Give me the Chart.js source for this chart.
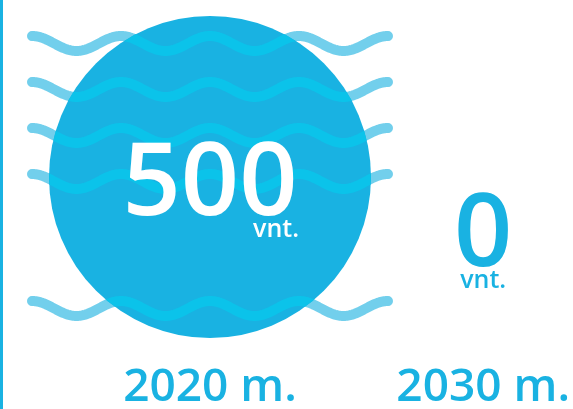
<!DOCTYPE html>
<html>
<head>
<meta charset="utf-8">
<script src="https://cdn.jsdelivr.net/npm/chart.js@4/dist/chart.umd.min.js"></script>
<style>
  html, body { margin: 0; padding: 0; background: #fff; }
  #wrap { width: 573px; height: 409px; }
</style>
</head>
<body>
<div id="wrap"><canvas id="chart"></canvas></div>
<script>
const categories = ["2020 m.", "2030 m."];
const values     = [500, 0];
const unitLabel  = "vnt.";

const BLUE       = "#19b2e2";
const WAVE_LIGHT = "#72cfec";
const WAVE_IN    = "#0bc3ea";
const FONT       = "'Open Sans', sans-serif";
const MAX_R      = 161;

const maxValue = Math.max(...values);

// wave rows, offsets from bubble centre
const waveRows = [-133.5, -87.5, -41.5, 4.5, 131.5];

function drawWaves(ctx, cx, cy, r, color) {
  const half = r + 17;
  const period = (half * 2) / 4;
  const amp = 7.5;
  ctx.save();
  ctx.strokeStyle = color;
  ctx.lineWidth = 10;
  ctx.lineCap = "round";
  ctx.lineJoin = "round";
  waveRows.forEach(off => {
    const mid = cy + off;
    ctx.beginPath();
    for (let x = cx - half; x <= cx + half + 0.1; x += 1) {
      const y = mid - amp * Math.cos(2 * Math.PI * (x - (cx - half)) / period);
      if (x === cx - half) ctx.moveTo(x, y); else ctx.lineTo(x, y);
    }
    ctx.stroke();
  });
  ctx.restore();
}

const decorPlugin = {
  id: "decor",
  beforeDraw(chart) {
    const ctx = chart.ctx;
    ctx.save();
    ctx.fillStyle = "#fff";
    ctx.fillRect(0, 0, chart.width, chart.height);
    ctx.fillStyle = BLUE;
    ctx.fillRect(0, 0, 3, chart.height);
    ctx.restore();
  },
  beforeDatasetsDraw(chart) {
    const meta = chart.getDatasetMeta(0);
    meta.data.forEach((pt, i) => {
      if (values[i] > 0) drawWaves(chart.ctx, pt.x, pt.y, pt.options.radius, WAVE_LIGHT);
    });
  },
  afterDatasetsDraw(chart) {
    const ctx = chart.ctx;
    const meta = chart.getDatasetMeta(0);
    meta.data.forEach((pt, i) => {
      const r = pt.options.radius;
      if (values[i] > 0) {
        ctx.save();
        ctx.beginPath();
        ctx.arc(pt.x, pt.y, r, 0, Math.PI * 2);
        ctx.clip();
        drawWaves(ctx, pt.x, pt.y, r, WAVE_IN);
        ctx.restore();
      }

      ctx.save();
      ctx.textBaseline = "alphabetic";
      if (r > 60) {
        ctx.fillStyle = "#fff";
        ctx.font = "600 102px " + FONT;
        ctx.textAlign = "center";
        ctx.fillText(String(values[i]), pt.x, pt.y + 38);
        ctx.font = "600 25px " + FONT;
        ctx.textAlign = "right";
        ctx.fillText(unitLabel, pt.x + 89, pt.y + 60);
      } else {
        ctx.fillStyle = BLUE;
        ctx.font = "600 102px " + FONT;
        ctx.textAlign = "center";
        ctx.fillText(String(values[i]), pt.x, pt.y + 89);
        ctx.font = "600 25px " + FONT;
        ctx.fillText(unitLabel, pt.x, pt.y + 111);
      }
      ctx.restore();
    });
  }
};

new Chart(document.getElementById("chart"), {
  type: "bubble",
  data: {
    labels: categories,
    datasets: [{
      data: categories.map((c, i) => ({
        x: c,
        y: 1,
        r: Math.sqrt(values[i] / maxValue) * MAX_R
      })),
      backgroundColor: BLUE,
      borderWidth: 0,
      hoverRadius: 0,
      clip: false
    }]
  },
  options: {
    responsive: true,
    maintainAspectRatio: false,
    animation: false,
    events: [],
    layout: { autoPadding: false, padding: { left: 210, right: 89, top: 0, bottom: -5 } },
    plugins: {
      legend: { display: false },
      tooltip: { enabled: false }
    },
    scales: {
      x: {
        type: "category",
        offset: false,
        grid: { display: false },
        border: { display: false },
        ticks: {
          color: BLUE,
          font: { family: FONT, size: 46, weight: "600", lineHeight: 1 },
          maxRotation: 0,
          autoSkip: false,
          padding: 3
        }
      },
      y: { display: false, min: 0, max: 2 }
    }
  },
  plugins: [decorPlugin]
});
</script>
</body>
</html>
